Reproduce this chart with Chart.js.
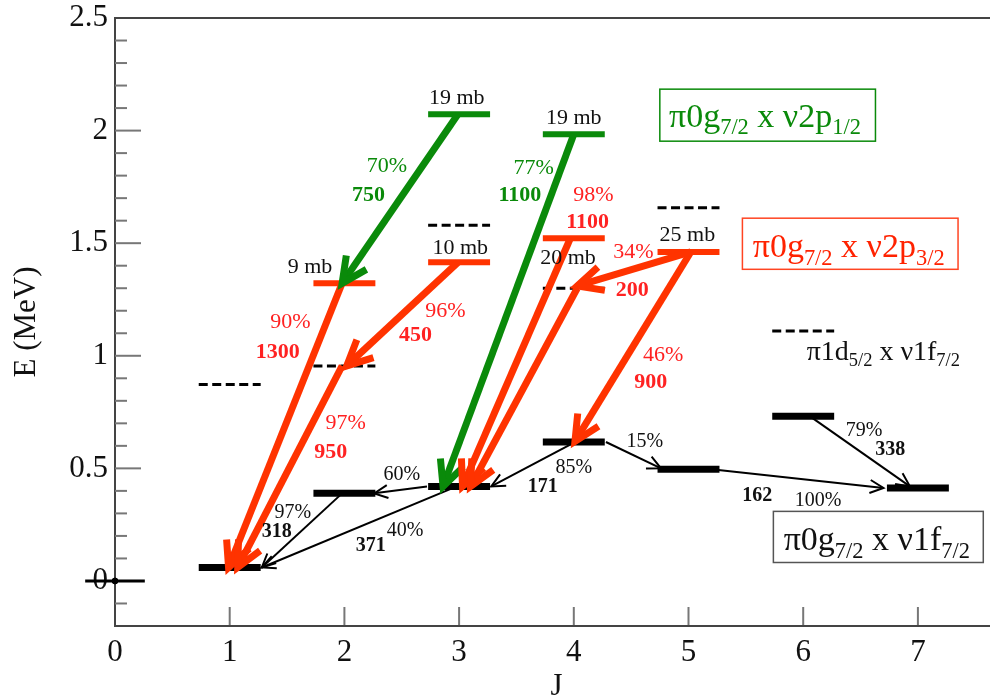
<!DOCTYPE html>
<html><head><meta charset="utf-8">
<script src="https://cdn.jsdelivr.net/npm/chart.js@4/dist/chart.umd.min.js"></script>
<style>html,body{margin:0;padding:0;background:#fff;overflow:hidden}</style>
</head><body>
<canvas id="c" width="990" height="698"></canvas>
<script>
const SERIF = '"Liberation Serif","Times New Roman",serif';
const GREEN = '#0a8a0a';
const RED = '#ff3300';
const REDTXT = '#ff2222';

// axis ticks
const xTickValues = [0, 1, 2, 3, 4, 5, 6, 7];
const yTickValues = [0, 0.5, 1, 1.5, 2, 2.5];
const yMinorValues = [-0.1, 0.1, 0.2, 0.3, 0.4, 0.6, 0.7, 0.8, 0.9, 1.1, 1.2, 1.3, 1.4, 1.6, 1.7, 1.8, 1.9, 2.1, 2.2, 2.3, 2.4];

// levels (J, E in MeV)
const blackJ = [1, 2, 3, 4, 5, 6, 7];
const blackE = [0.06, 0.389, 0.42, 0.617, 0.496, 0.731, 0.413];
const dashedJ = [1, 2, 3, 4, 5, 6];
const dashedE = [0.873, 0.955, 1.58, 1.30, 1.657, 1.11];
const redJ = [2, 3, 4, 5];
const redE = [1.322, 1.415, 1.522, 1.461];
const greenJ = [3, 4];
const greenE = [2.073, 1.984];
const HALF = 0.27;

// transitions [fromJ, fromE, toJ, toE]
const greenArrows = [[2.99, 2.073, 1.98, 1.322], [4.0, 1.984, 2.86, 0.42]];
const redArrows = [
  [1.98, 1.322, 0.99, 0.06], [1.98, 0.955, 1.07, 0.06], [2.99, 1.415, 2.02, 0.955],
  [3.97, 1.522, 3.03, 0.42], [4.03, 1.30, 3.10, 0.42], [5.02, 1.461, 4.03, 1.31], [5.02, 1.461, 4.01, 0.62]
];
const blackArrows = [
  [1.98, 0.389, 1.28, 0.06], [2.98, 0.42, 1.28, 0.06], [2.72, 0.42, 2.26, 0.389],
  [4.01, 0.617, 3.28, 0.42], [4.28, 0.617, 4.76, 0.50], [5.2, 0.496, 6.70, 0.413], [6.06, 0.731, 6.93, 0.42]
];

// annotations [text, J, E, bold]
const mbLabels = [['19 mb', 2.98, 2.144], ['19 mb', 4.0, 2.056], ['10 mb', 3.01, 1.478], ['9 mb', 1.70, 1.393], ['20 mb', 3.95, 1.433], ['25 mb', 4.99, 1.536]];
const greenLabels = [['70%', 2.37, 1.842, 0], ['750', 2.21, 1.713, 1], ['77%', 3.65, 1.833, 0], ['1100', 3.53, 1.713, 1]];
const redLabels = [['90%', 1.53, 1.149, 0], ['1300', 1.42, 1.016, 1], ['97%', 2.01, 0.70, 0], ['950', 1.88, 0.571, 1],
  ['96%', 2.88, 1.198, 0], ['450', 2.62, 1.091, 1], ['98%', 4.17, 1.713, 0], ['1100', 4.12, 1.593, 1],
  ['34%', 4.52, 1.46, 0], ['200', 4.51, 1.291, 1], ['46%', 4.78, 1.002, 0], ['900', 4.67, 0.882, 1]];
const blackLabels = [['97%', 1.55, 0.304, 0], ['318', 1.41, 0.216, 1], ['371', 2.23, 0.158, 1], ['40%', 2.53, 0.224, 0],
  ['60%', 2.50, 0.473, 0], ['85%', 4.0, 0.504, 0], ['171', 3.73, 0.416, 1], ['15%', 4.62, 0.62, 0],
  ['162', 5.60, 0.38, 1], ['100%', 6.13, 0.358, 0], ['79%', 6.53, 0.669, 0], ['338', 6.76, 0.584, 1]];

// configuration legends: parts, color, text start (J,E baseline), box [J0,E0,J1,E1] or null, size
const configs = [
  {parts: [['π0g'], ['7/2', 1], [' x ν2p'], ['1/2', 1]], color: GREEN, at: [4.83, 2.016], box: [4.75, 2.184, 6.63, 1.953], size: 34, border: GREEN},
  {parts: [['π0g'], ['7/2', 1], [' x ν2p'], ['3/2', 1]], color: '#ff2200', at: [5.56, 1.438], box: [5.47, 1.611, 7.35, 1.384], size: 34, border: '#ff4422'},
  {parts: [['π1d'], ['5/2', 1], [' x ν1f'], ['7/2', 1]], color: '#111', at: [6.03, 0.98], box: null, size: 28},
  {parts: [['π0g'], ['7/2', 1], [' x ν1f'], ['7/2', 1]], color: '#111', at: [5.83, 0.136], box: [5.74, 0.309, 7.57, 0.082], size: 34, border: '#555'}
];

const datasets = [];
function seg(x0, y0, x1, y1, color, width, extra) {
  datasets.push(Object.assign({data: [{x: x0, y: y0}, {x: x1, y: y1}], showLine: true, borderColor: color, backgroundColor: color,
    borderWidth: width, pointRadius: 0, fill: false, borderCapStyle: 'butt', order: 2}, extra || {}));
}
blackJ.forEach((j, i) => seg(j - HALF, blackE[i], j + HALF, blackE[i], '#000', 7));
dashedJ.forEach((j, i) => seg(j - HALF, dashedE[i], j + HALF, dashedE[i], '#000', 3, {borderDash: [9, 4.5]}));
redJ.forEach((j, i) => seg(j - HALF, redE[i], j + HALF, redE[i], RED, 6));
greenJ.forEach((j, i) => seg(j - HALF, greenE[i], j + HALF, greenE[i], GREEN, 6));
// zero marker line
seg(-0.26, 0, 0.26, 0, '#000', 3, {clip: false});
datasets.push({data: [{x: 0, y: 0}], pointRadius: 3, backgroundColor: '#000', borderColor: '#000', clip: false, order: 0});
blackArrows.forEach(a => seg(a[0], a[1], a[2], a[3], '#000', 2, {order: 1, arrow: {len: 15, ang: 0.45}}));
greenArrows.forEach(a => seg(a[0], a[1], a[2], a[3], GREEN, 7, {order: 0, arrow: {len: 28, ang: 0.45}}));
redArrows.forEach(a => seg(a[0], a[1], a[2], a[3], RED, 7, {order: 0, arrow: {len: 28, ang: 0.45}}));

function line(ctx, x0, y0, x1, y1) { ctx.beginPath(); ctx.moveTo(x0, y0); ctx.lineTo(x1, y1); ctx.stroke(); }

const axisPlugin = {
  id: 'axisDeco',
  beforeDatasetsDraw(chart) {
    const {ctx, chartArea: a, scales: {x, y}} = chart;
    ctx.save();
    ctx.strokeStyle = '#777'; ctx.lineWidth = 2;
    yTickValues.forEach(v => { const p = y.getPixelForValue(v); line(ctx, a.left, p, a.left + 26, p); });
    yMinorValues.forEach(v => { const p = y.getPixelForValue(v); line(ctx, a.left, p, a.left + 12, p); });
    xTickValues.slice(1).forEach(v => { const p = x.getPixelForValue(v); line(ctx, p, a.bottom, p, a.bottom - 19); });
    ctx.strokeStyle = '#444'; ctx.lineWidth = 2;
    line(ctx, a.left, a.top, chart.width, a.top);
    line(ctx, a.left, a.bottom, chart.width, a.bottom);
    // axis titles
    ctx.fillStyle = '#111'; ctx.font = `31px ${SERIF}`; ctx.textAlign = 'center'; ctx.textBaseline = 'middle';
    ctx.fillText('J', (a.left + chart.width) / 2 + 4, 687);
    ctx.translate(27, (a.top + a.bottom) / 2); ctx.rotate(-Math.PI / 2);
    ctx.fillText('E (MeV)', 0, 0);
    ctx.restore();
  },
  afterDatasetsDraw(chart) {
    const {ctx, scales: {x, y}} = chart;
    ctx.save();
    chart.data.datasets.forEach((ds, i) => {
      if (!ds.arrow) return;
      const pts = chart.getDatasetMeta(i).data;
      const p0 = pts[0], p1 = pts[pts.length - 1];
      const th = Math.atan2(p0.y - p1.y, p0.x - p1.x);
      ctx.strokeStyle = ds.borderColor; ctx.lineWidth = ds.borderWidth; ctx.lineJoin = 'miter'; ctx.miterLimit = 3; ctx.lineCap = 'butt';
      ctx.beginPath();
      ctx.moveTo(p1.x + ds.arrow.len * Math.cos(th + ds.arrow.ang), p1.y + ds.arrow.len * Math.sin(th + ds.arrow.ang));
      ctx.lineTo(p1.x, p1.y);
      ctx.lineTo(p1.x + ds.arrow.len * Math.cos(th - ds.arrow.ang), p1.y + ds.arrow.len * Math.sin(th - ds.arrow.ang));
      ctx.stroke();
    });
    // annotations
    ctx.textAlign = 'center'; ctx.textBaseline = 'middle';
    const put = (arr, color, size) => arr.forEach(l => {
      ctx.font = `${l[3] ? 'bold ' : ''}${size}px ${SERIF}`; ctx.fillStyle = color;
      ctx.fillText(l[0], x.getPixelForValue(l[1]), y.getPixelForValue(l[2]));
    });
    put(mbLabels, '#111', 22);
    put(greenLabels, GREEN, 22);
    put(redLabels, REDTXT, 22);
    put(blackLabels, '#111', 20);
    // configuration legends
    configs.forEach(c => {
      if (c.box) {
        const bx0 = x.getPixelForValue(c.box[0]), by0 = y.getPixelForValue(c.box[1]);
        const bx1 = x.getPixelForValue(c.box[2]), by1 = y.getPixelForValue(c.box[3]);
        ctx.fillStyle = '#fff'; ctx.fillRect(bx0, by0, bx1 - bx0, by1 - by0);
        ctx.strokeStyle = c.border; ctx.lineWidth = 1.5; ctx.strokeRect(bx0, by0, bx1 - bx0, by1 - by0);
      }
      let cx = x.getPixelForValue(c.at[0]); const by = y.getPixelForValue(c.at[1]);
      ctx.textAlign = 'left'; ctx.textBaseline = 'alphabetic'; ctx.fillStyle = c.color;
      c.parts.forEach(p => {
        const fs = p[1] ? c.size * 0.66 : c.size;
        ctx.font = `${fs}px ${SERIF}`;
        ctx.fillText(p[0], cx, p[1] ? by + c.size * 0.22 : by);
        cx += ctx.measureText(p[0]).width;
      });
    });
    ctx.restore();
  }
};

new Chart(document.getElementById('c'), {
  type: 'scatter',
  data: {datasets},
  options: {
    responsive: false, animation: false, events: [],
    layout: {padding: {top: 18, right: 0, left: 0, bottom: 0}},
    plugins: {legend: {display: false}, tooltip: {enabled: false}},
    scales: {
      x: {
        type: 'linear', min: 0, max: 7.585,
        afterFit(s) { s.height = 72; s.paddingLeft = 0; s.paddingRight = 0; },
        afterBuildTicks(s) { s.ticks = xTickValues.map(v => ({value: v})); },
        grid: {display: false, drawTicks: false},
        border: {display: true, color: '#444', width: 2},
        ticks: {font: {family: SERIF, size: 31}, color: '#111', padding: 8, maxRotation: 0, autoSkip: false, callback: v => String(v)}
      },
      y: {
        type: 'linear', min: -0.2, max: 2.5,
        afterFit(s) { s.width = 115; s.paddingTop = 0; s.paddingBottom = 0; },
        afterBuildTicks(s) { s.ticks = yTickValues.map(v => ({value: v})); },
        grid: {display: false, drawTicks: false},
        border: {display: true, color: '#444', width: 2},
        ticks: {font: {family: SERIF, size: 31}, color: '#111', padding: 7, autoSkip: false, callback: v => String(v)}
      }
    }
  },
  plugins: [axisPlugin]
});
</script>
</body></html>
